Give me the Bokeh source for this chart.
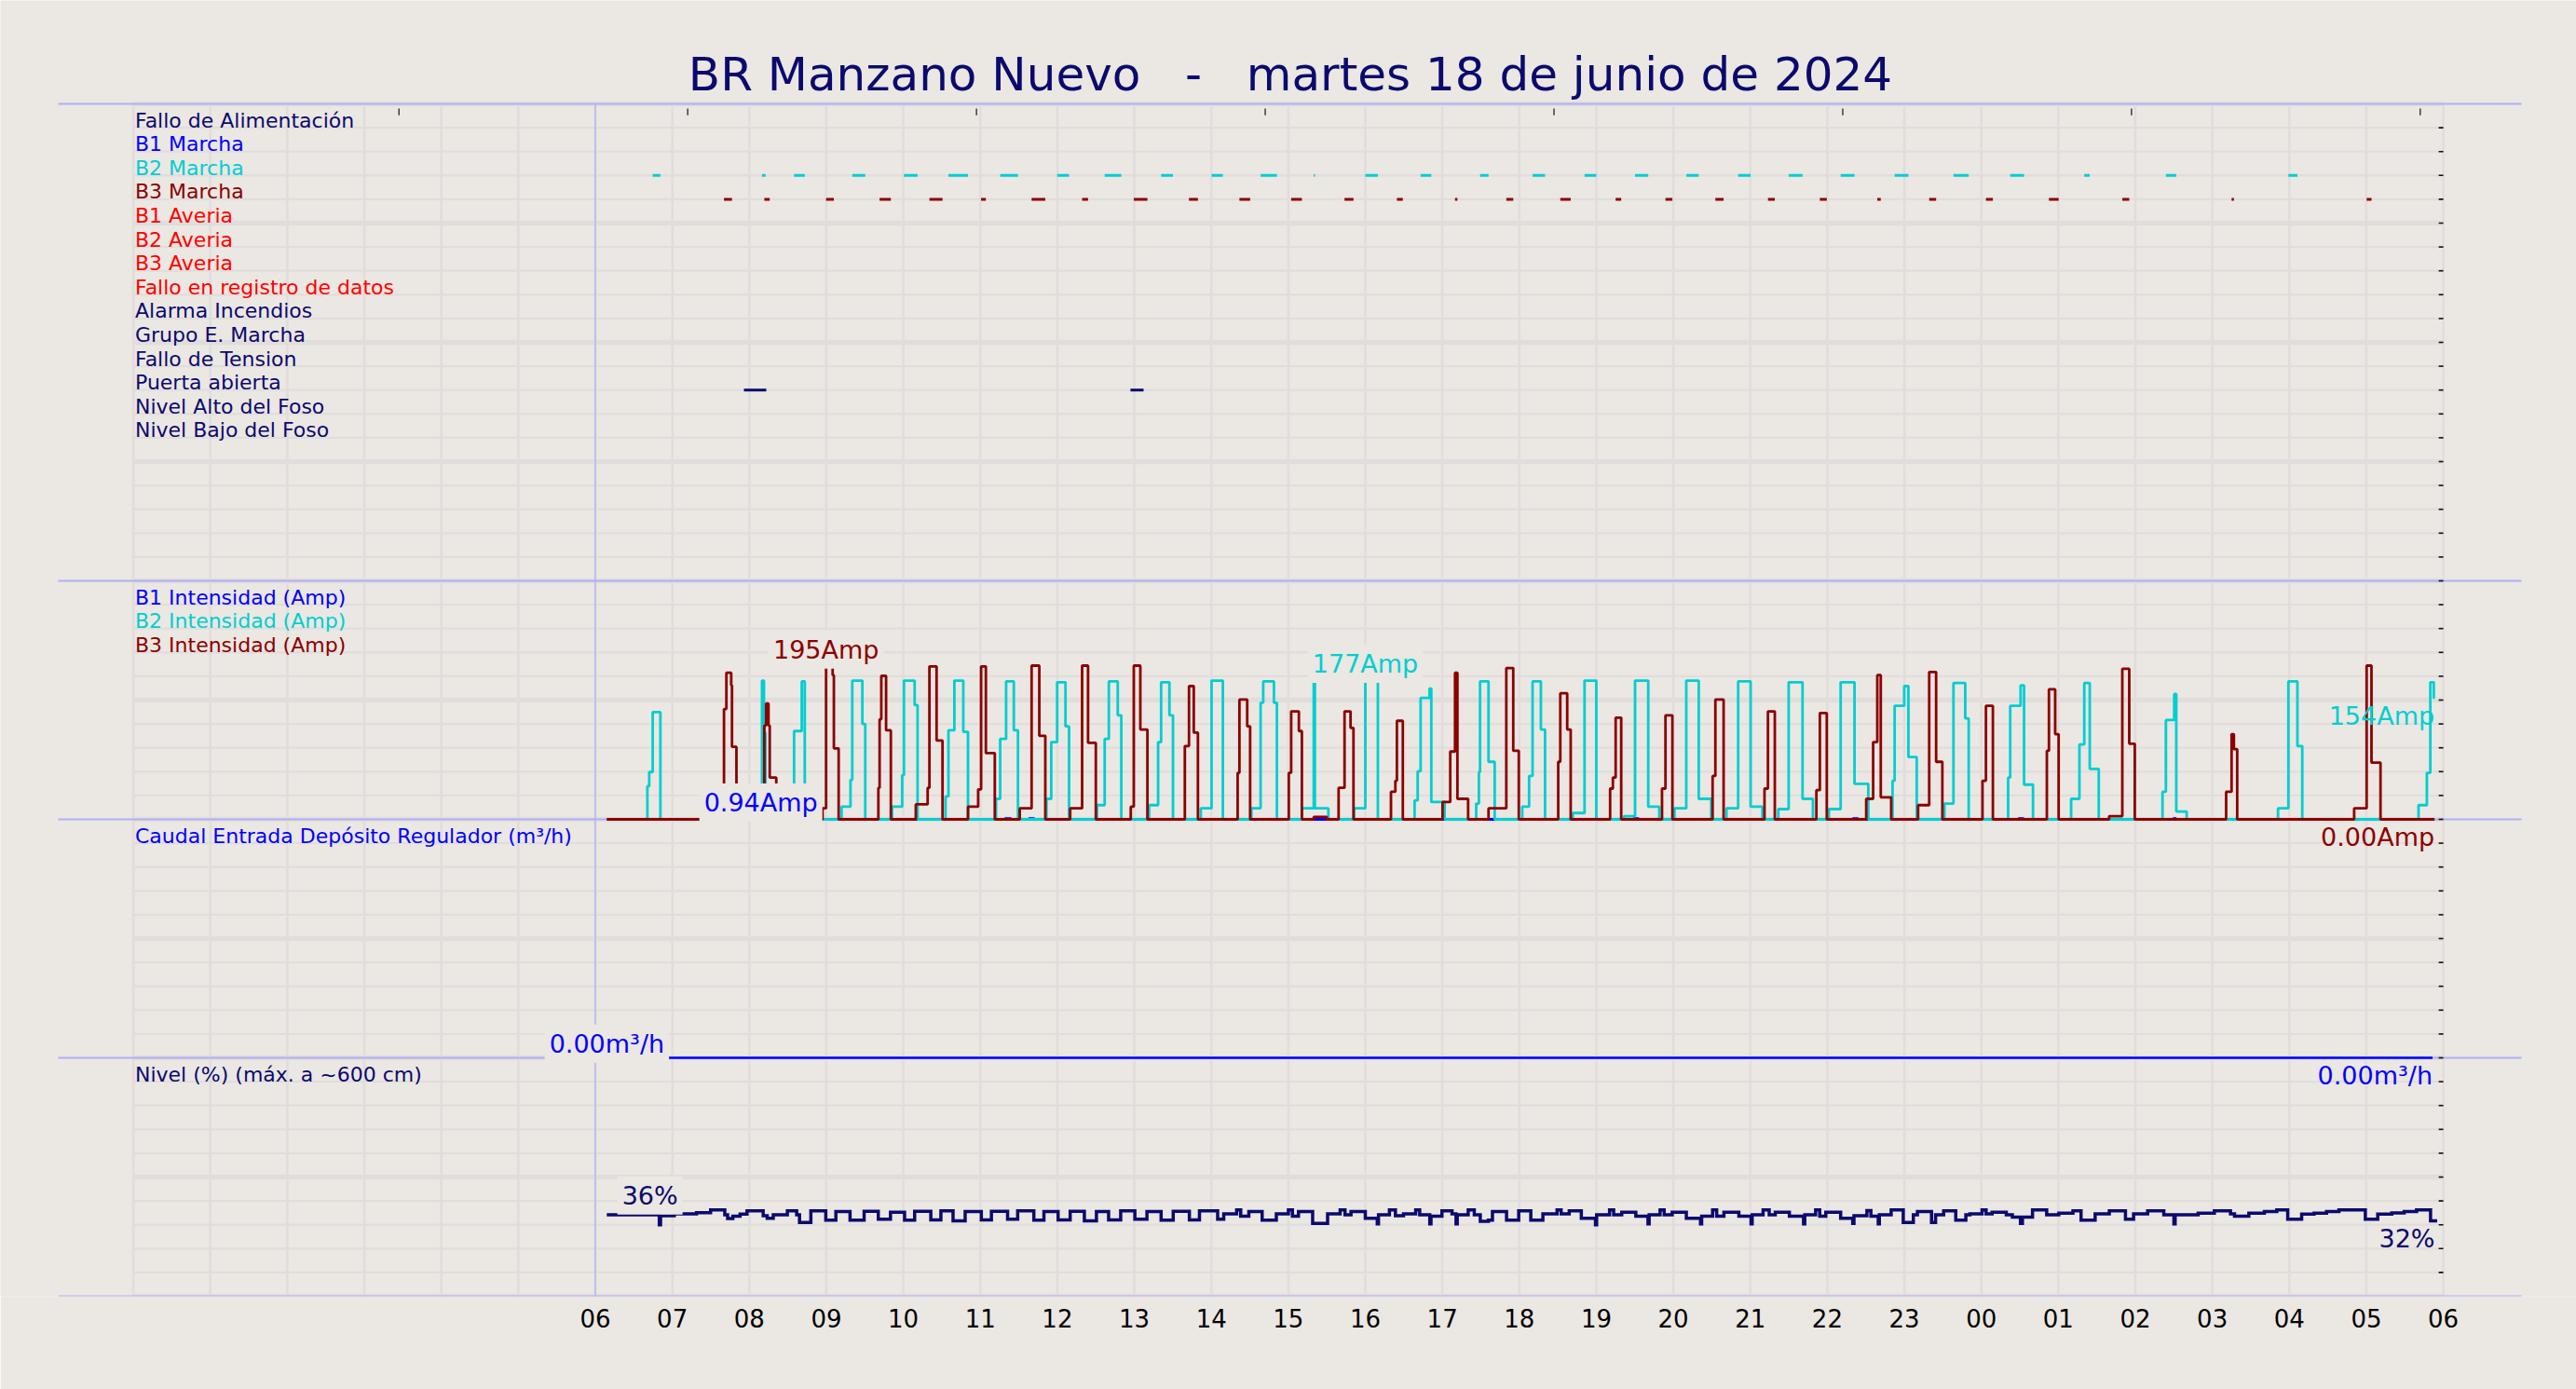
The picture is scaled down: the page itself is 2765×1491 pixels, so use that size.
import numpy as np
from bokeh.plotting import figure
from bokeh.models import Range1d, FixedTicker, Label, ColumnDataSource
from bokeh.core.properties import value
from bokeh.embed import file_html
from bokeh.resources import INLINE

# ------------------------------------------------------------------ data
TITLE = "BR Manzano Nuevo \u00a0 - \u00a0 martes 18 de junio de 2024"

# x axis: hours after 06:00 of 18/06/2024
HOURS = list(range(0, 25))
HOUR_LABELS = ["06", "07", "08", "09", "10", "11", "12", "13", "14", "15", "16", "17",
               "18", "19", "20", "21", "22", "23", "00", "01", "02", "03", "04", "05", "06"]

DIGITAL_LABELS = ["Fallo de Alimentación", "B1 Marcha", "B2 Marcha", "B3 Marcha",
                  "B1 Averia", "B2 Averia", "B3 Averia", "Fallo en registro de datos",
                  "Alarma Incendios", "Grupo E. Marcha", "Fallo de Tension",
                  "Puerta abierta", "Nivel Alto del Foso", "Nivel Bajo del Foso"]
INTENS_LABELS = ["B1 Intensidad (Amp)", "B2 Intensidad (Amp)", "B3 Intensidad (Amp)"]
CAUDAL_LABEL = "Caudal Entrada Depósito Regulador (m³/h)"
NIVEL_LABEL = "Nivel (%) (máx. a ~600 cm)"

# Puerta abierta (hours after 06:00)
PUERTA_ON = [1.93, 6.95]
PUERTA_OFF = [2.22, 7.12]

# B1 intensity steps (hour, Amp)
B1_STEPS = [(0.15, 0), (2.15, 0.94), (2.21, 0), (5.32, 0.9), (5.40, 0), (5.63, 0.9), (5.70, 0),
            (13.48, 0.9), (13.55, 0), (16.33, 0.9), (16.40, 0), (18.48, 0.9), (18.55, 0),
            (20.49, 0.9), (20.53, 0), (23.885, 0)]

# B2 intensity steps (hour, Amp)
B2_STEPS = [(0.15, 0),
            (0.676, 42), (0.70, 60), (0.745, 136), (0.845, 0),
            (2.165, 176), (2.19, 110), (2.21, 40), (2.235, 0),
            (2.581, 112), (2.681, 175), (2.72, 0),
            (3.198, 16), (3.314, 50), (3.337, 176), (3.468, 121), (3.506, 0),
            (3.853, 16), (3.985, 56), (4.008, 176), (4.147, 145), (4.185, 0),
            (4.548, 29), (4.586, 113), (4.663, 176), (4.779, 111), (4.84, 0),
            (5.204, 26), (5.258, 102), (5.335, 175), (5.435, 113), (5.489, 0),
            (5.859, 26), (5.921, 98), (5.998, 174), (6.106, 118), (6.152, 0),
            (6.515, 18), (6.615, 102), (6.669, 175), (6.785, 132), (6.831, 0),
            (7.193, 18), (7.309, 98), (7.348, 174), (7.456, 132), (7.502, 0),
            (7.863, 14), (8.003, 176), (8.15, 0),
            (8.52, 14), (8.64, 148), (8.674, 175), (8.813, 148), (8.852, 0),
            (9.176, 14), (9.33, 175), (9.345, 14), (9.52, 0),
            (9.854, 14), (10.0, 177), (10.163, 0),
            (10.64, 24), (10.68, 61), (10.718, 154), (10.834, 166), (10.857, 22), (11.03, 0),
            (11.44, 20), (11.475, 60), (11.49, 175), (11.60, 73), (11.68, 0),
            (12.038, 16), (12.127, 55), (12.172, 175), (12.28, 114), (12.334, 0),
            (12.694, 8), (12.847, 176), (13.0, 0),
            (13.359, 4), (13.503, 176), (13.674, 16), (13.817, 0),
            (14.015, 14), (14.168, 176), (14.33, 26), (14.492, 0),
            (14.69, 14), (14.842, 175), (15.004, 16), (15.157, 0),
            (15.363, 13), (15.498, 174), (15.678, 26), (15.813, 0),
            (16.02, 13), (16.173, 174), (16.353, 45), (16.532, 0),
            (16.847, 49), (16.874, 144), (16.999, 169), (17.053, 79), (17.161, 0),
            (17.521, 20), (17.638, 173), (17.791, 128), (17.836, 0),
            (18.348, 53), (18.375, 144), (18.51, 170), (18.555, 44), (18.671, 0),
            (19.166, 26), (19.274, 95), (19.337, 173), (19.408, 64), (19.525, 0),
            (20.353, 35), (20.397, 126), (20.505, 159), (20.532, 10), (20.667, 0),
            (21.853, 14), (21.988, 175), (22.105, 93), (22.168, 0),
            (23.678, 18), (23.786, 59), (23.831, 174), (23.876, 154), (23.885, 154)]

# B3 intensity steps (hour, Amp)
B3_STEPS = [(0.15, 0),
            (1.671, 140), (1.702, 186), (1.765, 170), (1.775, 92), (1.833, 0),
            (2.195, 119), (2.218, 147), (2.249, 119), (2.265, 53), (2.35, 0),
            (2.951, 14), (2.997, 195), (3.082, 183), (3.098, 90), (3.16, 0),
            (3.676, 40), (3.692, 127), (3.714, 182), (3.776, 113), (3.838, 0),
            (4.162, 19), (4.316, 40), (4.339, 194), (4.432, 100), (4.509, 0),
            (4.84, 16), (4.972, 38), (5.01, 194), (5.072, 84), (5.188, 0),
            (5.512, 14), (5.666, 195), (5.766, 106), (5.844, 0),
            (6.167, 14), (6.322, 195), (6.399, 97), (6.5, 0),
            (6.954, 16), (6.993, 195), (7.078, 114), (7.17, 0),
            (7.656, 93), (7.71, 169), (7.772, 110), (7.826, 0),
            (8.342, 59), (8.365, 152), (8.466, 118), (8.504, 0),
            (9.006, 59), (9.037, 137), (9.137, 112), (9.176, 0),
            (9.33, 3), (9.50, 0),
            (9.653, 40), (9.73, 137), (9.808, 116), (9.846, 0),
            (10.333, 35), (10.39, 49), (10.41, 125), (10.487, 0),
            (11.003, 22), (11.103, 86), (11.165, 186), (11.196, 26), (11.335, 0),
            (11.6, 14), (11.831, 192), (11.921, 87), (11.993, 0),
            (12.505, 73), (12.532, 160), (12.622, 114), (12.667, 0),
            (13.179, 39), (13.215, 53), (13.251, 129), (13.323, 0),
            (13.853, 39), (13.898, 132), (13.988, 0),
            (14.51, 55), (14.546, 152), (14.653, 0),
            (15.184, 39), (15.229, 137), (15.318, 0),
            (15.858, 37), (15.903, 135), (15.993, 0),
            (16.505, 26), (16.595, 98), (16.649, 183), (16.694, 28), (16.829, 0),
            (17.179, 18), (17.323, 187), (17.413, 73), (17.494, 0),
            (18.015, 49), (18.06, 144), (18.15, 0),
            (18.851, 87), (18.878, 165), (18.959, 108), (19.004, 0),
            (19.66, 4), (19.831, 191), (19.921, 96), (19.993, 0),
            (21.179, 35), (21.25, 108), (21.28, 89), (21.323, 0),
            (22.842, 14), (23.004, 195), (23.067, 72), (23.184, 0),
            (23.885, 0)]

# Caudal entrada (hour, m3/h)
CAUDAL_STEPS = [(0.15, 0.0), (23.86, 0.0)]

# Nivel (hour, %)
NIVEL_STEPS = [
    (0.149, 34.2), (0.831, 30.0), (0.847, 33.8), (1.025, 34.6), (1.314, 35.1), (1.497, 36.2),
    (1.681, 34.2), (1.718, 32.6), (1.786, 33.6), (1.88, 34.5), (1.97, 35.8), (2.18, 33.8),
    (2.232, 32.7), (2.311, 34.2), (2.494, 35.8), (2.615, 34.2), (2.652, 31.0),
    (2.799, 35.8), (2.993, 31.9), (3.124, 35.5), (3.308, 31.9), (3.491, 35.6), (3.675, 32.3),
    (3.833, 35.3), (4.016, 31.9), (4.147, 35.6), (4.357, 32.0), (4.488, 35.8), (4.646, 31.6),
    (4.803, 35.5), (5.013, 32.0), (5.144, 35.6), (5.354, 32.3), (5.485, 35.8), (5.695, 31.9),
    (5.826, 35.5), (6.01, 32.0), (6.167, 35.6), (6.351, 31.6), (6.508, 35.5), (6.666, 32.0),
    (6.823, 35.8), (7.007, 32.3), (7.164, 35.5), (7.348, 31.9), (7.505, 35.6), (7.715, 32.0),
    (7.846, 35.8), (8.082, 32.3),
    (8.161, 34.6), (8.329, 36.2), (8.382, 33.6), (8.487, 35.5), (8.66, 31.9), (8.844, 34.6),
    (9.001, 36.2), (9.053, 33.6), (9.132, 35.5), (9.316, 30.6), (9.51, 34.6), (9.673, 36.2),
    (9.736, 34.2), (9.814, 35.5), (10.0, 32.7), (10.155, 30.4), (10.171, 34.2), (10.313, 36.2),
    (10.391, 33.8), (10.496, 34.6), (10.654, 36.2), (10.706, 34.2), (10.837, 30.4),
    (10.853, 33.6), (10.995, 35.8), (11.126, 34.6), (11.178, 30.4), (11.194, 34.2),
    (11.336, 36.2), (11.415, 34.2), (11.493, 31.4), (11.598, 31.9), (11.651, 35.5),
    (11.834, 31.9), (11.992, 35.8), (12.149, 31.9), (12.306, 34.6), (12.49, 36.2),
    (12.543, 34.6), (12.648, 35.8), (12.805, 32.7), (12.989, 30.0), (13.004, 34.2),
    (13.172, 36.2), (13.225, 34.2), (13.33, 35.3), (13.513, 33.6), (13.671, 30.4),
    (13.686, 34.2), (13.828, 36.2), (13.881, 34.2), (13.985, 35.3), (14.169, 32.7),
    (14.353, 30.4), (14.368, 33.6), (14.51, 36.2), (14.563, 33.6), (14.657, 35.3),
    (14.851, 33.6), (15.009, 30.4), (15.024, 34.2), (15.166, 36.2), (15.245, 34.2),
    (15.324, 35.3), (15.507, 33.6), (15.691, 30.4), (15.707, 34.2), (15.848, 36.2),
    (15.901, 33.6), (15.98, 35.3), (16.173, 32.7),
    (16.33, 30.6), (16.346, 33.8), (16.514, 35.9), (16.566, 33.6), (16.661, 30.4),
    (16.676, 34.2), (16.829, 36.2), (16.986, 31.0), (17.117, 34.2), (17.17, 35.5),
    (17.353, 31.0), (17.406, 34.2), (17.511, 35.8), (17.668, 31.9), (17.799, 34.2),
    (17.852, 34.6), (18.009, 36.2), (18.062, 34.6), (18.14, 35.3), (18.324, 34.2),
    (18.403, 33.2), (18.508, 30.6), (18.534, 33.2), (18.665, 36.2), (18.849, 34.2),
    (19.006, 34.9), (19.19, 35.8), (19.295, 31.9), (19.478, 34.6), (19.662, 35.8),
    (19.872, 32.3), (19.977, 34.6), (20.16, 35.8), (20.37, 34.2), (20.501, 30.4),
    (20.517, 34.2), (20.816, 34.9), (21.026, 35.8), (21.236, 34.6), (21.288, 33.6),
    (21.474, 34.9), (21.676, 35.5), (21.837, 36.2), (21.979, 32.3), (22.16, 34.5),
    (22.321, 34.9), (22.483, 35.5), (22.644, 36.2), (22.987, 32.3), (23.148, 34.5),
    (23.33, 35.0), (23.491, 35.5), (23.652, 36.2), (23.834, 31.6), (23.92, 31.6)]

# ------------------------------------------------------------------ style
BG = "#EBE7E2"
GRID = "#E1DDDC"
SEP = "#AFAFF5"
NAVY = "#0A0A6E"
BLUE = "#0000FF"
CYAN = "#00CED1"
DRED = "#8B0000"
RED = "#FF0000"
FONT = "DejaVu Sans"

DIGITAL_COLORS = [NAVY, BLUE, CYAN, DRED, RED, RED, RED, RED, NAVY, NAVY, NAVY, NAVY, NAVY, NAVY]
INTENS_COLORS = [BLUE, CYAN, DRED]

# geometry (canvas pixels)
W, H = 2765, 1491
X06 = 638.5              # pixel of 06:00
PX_H = 82.65             # pixels per hour
Y0 = 1391                # pixel of the bottom band edge
PX_U = 25.6              # pixels per band unit
FL, FR, FT, FB = 0, W, 0, Y0
T0 = (FL - X06) / PX_H
T1 = (FR - X06) / PX_H
YTOP = (FB - FT) / PX_U

# band scales (band units)
K_AMP = 0.03305          # units per Amp, zero at 20
K_Q = 0.05               # units per m3/h, zero at 10
K_PCT = 0.1              # units per %, zero at 0

ROW_DIG = list(range(49, 35, -1))
ROW_INT = [29, 28, 27]
ROW_CAU = 19
ROW_NIV = 9
LBL_DY = 0.31            # label centre above its row


def unpack(steps):
    t, v = zip(*steps)
    return np.array(t, float), np.array(v, float)


def runs(steps, thr):
    out = []
    on = None
    for t, v in steps:
        if v >= thr and on is None:
            on = t
        elif v < thr and on is not None:
            out.append((on, t))
            on = None
    return out


p = figure(width=W, height=H, x_range=Range1d(T0, T1), y_range=Range1d(0, YTOP),
           min_border_left=FL, min_border_right=W - FR, min_border_top=FT,
           min_border_bottom=H - FB, output_backend="svg", toolbar_location=None,
           y_axis_location=None, title=None)
p.background_fill_color = BG
p.border_fill_color = BG
p.outline_line_color = None
p.xgrid.visible = False
p.ygrid.visible = False

ax = p.xaxis[0]
ax.ticker = FixedTicker(ticks=HOURS)
ax.major_label_overrides = {h: lab for h, lab in zip(HOURS, HOUR_LABELS)}
ax.axis_line_color = None
ax.major_tick_line_color = None
ax.minor_tick_line_color = None
ax.major_tick_out = 0
ax.major_tick_in = 0
ax.major_label_standoff = 13
ax.major_label_text_font = FONT
ax.major_label_text_font_size = "26px"
ax.major_label_text_color = "black"

# grid
minor_y = [k for k in range(51) if k % 5]
major_y = [k for k in range(51) if k % 5 == 0]
vx = list(range(-6, 25))
p.segment(x0=-6, y0=minor_y, x1=24, y1=minor_y, line_color=GRID, line_width=2.3)
p.segment(x0=vx, y0=0, x1=vx, y1=50, line_color=GRID, line_width=2.6)
p.segment(x0=-6, y0=major_y, x1=24, y1=major_y, line_color=GRID, line_width=5.5)

# separators and start line
sep_y = [50, 30, 20, 10, 0]
p.segment(x0=(62 - X06) / PX_H, y0=sep_y, x1=(2706 - X06) / PX_H, y1=sep_y,
          line_color=SEP, line_width=2)
p.segment(x0=[0], y0=[0], x1=[0], y1=[50], line_color=SEP, line_width=1.3)

# top ticks and right ticks
top_t = [-6 + 3.45 + 3.75 * k for k in range(8)]
p.segment(x0=top_t, y0=49.80, x1=top_t, y1=49.52, line_color="#222222", line_width=1.3)
ry = list(range(1, 50))
p.segment(x0=23.94, y0=ry, x1=24.0, y1=ry, line_color="#111111", line_width=1.6)

# intensities
b1t, b1v = unpack(B1_STEPS)
b2t, b2v = unpack(B2_STEPS)
b3t, b3v = unpack(B3_STEPS)
p.step(b1t, 20 + b1v * K_AMP, mode="after", line_color=BLUE, line_width=2.8)
p.step(b2t, 20 + b2v * K_AMP, mode="after", line_color=CYAN, line_width=2.8)
p.step(b3t, 20 + b3v * K_AMP, mode="after", line_color=DRED, line_width=2.8)

# caudal
ct, cq = unpack(CAUDAL_STEPS)
p.line(ct, 10 + cq * K_Q, line_color=BLUE, line_width=2.5)

# nivel
nt, nv = unpack(NIVEL_STEPS)
p.step(nt, nv * K_PCT, mode="after", line_color=NAVY, line_width=3.5, line_join="miter")

# digital signals
b2r = runs(B2_STEPS, 100)
b3r = runs(B3_STEPS, 100)
p.segment(x0=[a for a, b in b2r], y0=ROW_DIG[2], x1=[b for a, b in b2r], y1=ROW_DIG[2],
          line_color=CYAN, line_width=3)
p.segment(x0=[a for a, b in b3r], y0=ROW_DIG[3], x1=[b for a, b in b3r], y1=ROW_DIG[3],
          line_color=DRED, line_width=3)
p.segment(x0=PUERTA_ON, y0=ROW_DIG[11], x1=PUERTA_OFF, y1=ROW_DIG[11],
          line_color=NAVY, line_width=3)

# band labels
LX = (144.5 - X06) / PX_H
lab_text = DIGITAL_LABELS + INTENS_LABELS + [CAUDAL_LABEL, NIVEL_LABEL]
lab_y = [r + LBL_DY for r in ROW_DIG + ROW_INT + [ROW_CAU, ROW_NIV]]
lab_c = DIGITAL_COLORS + INTENS_COLORS + [BLUE, NAVY]
src = ColumnDataSource(dict(x=[LX] * len(lab_text), y=lab_y, text=lab_text, color=lab_c))
p.text(x="x", y="y", text="text", source=src, text_color="color",
       text_font=value(FONT), text_font_size="22px", text_baseline="middle",
       text_align="left")


def fmt(v, unit):
    return (f"{v:.2f}" if abs(v) < 10 else f"{v:.0f}") + unit


def add_label(x, y, text, color, align, box):
    lab = Label(x=x, y=y, text=text, text_color=color, text_font=FONT,
                text_font_size="27px", text_align=align, text_baseline="middle")
    if box:
        lab.background_fill_color = BG
        lab.background_fill_alpha = 1.0
        lab.padding = 5
    p.add_layout(lab)


# max labels (centre slightly above the maximum)
for t, v, c in [(b1t, b1v, BLUE), (b3t, b3v, DRED), (b2t, b2v, CYAN)]:
    i = int(np.argmax(v))
    add_label(t[i], 20 + v[i] * K_AMP + 0.67, fmt(v[i], "Amp"), c, "center", True)
i = int(np.argmax(cq))
add_label(ct[i], 10 + cq[i] * K_Q + 0.6, fmt(cq[i], "m³/h"), BLUE, "center", True)
add_label(0.71, 4.23, f"{nv.max():.0f}%", NAVY, "center", True)

# last-value labels (centre below the last value)
add_label(b2t[-1], 20 + b2v[-1] * K_AMP - 0.74, fmt(b2v[-1], "Amp"), CYAN, "right", False)
add_label(b3t[-1], 20 + b3v[-1] * K_AMP - 0.74, fmt(b3v[-1], "Amp"), DRED, "right", False)
add_label(ct[-1], 10 + cq[-1] * K_Q - 0.74, fmt(cq[-1], "m³/h"), BLUE, "right", False)
add_label(nt[-1] - 0.03, nv[-1] * K_PCT - 0.74, f"{nv[-1]:.0f}%", NAVY, "right", False)

# title
p.text(x=[(1384.5 - X06) / PX_H], y=[(Y0 - 79.2) / PX_U], text=[TITLE],
       text_font=value(FONT), text_font_size="50px", text_color=NAVY,
       text_align="center", text_baseline="middle")

open("out.html", "w").write(file_html(p, INLINE))
